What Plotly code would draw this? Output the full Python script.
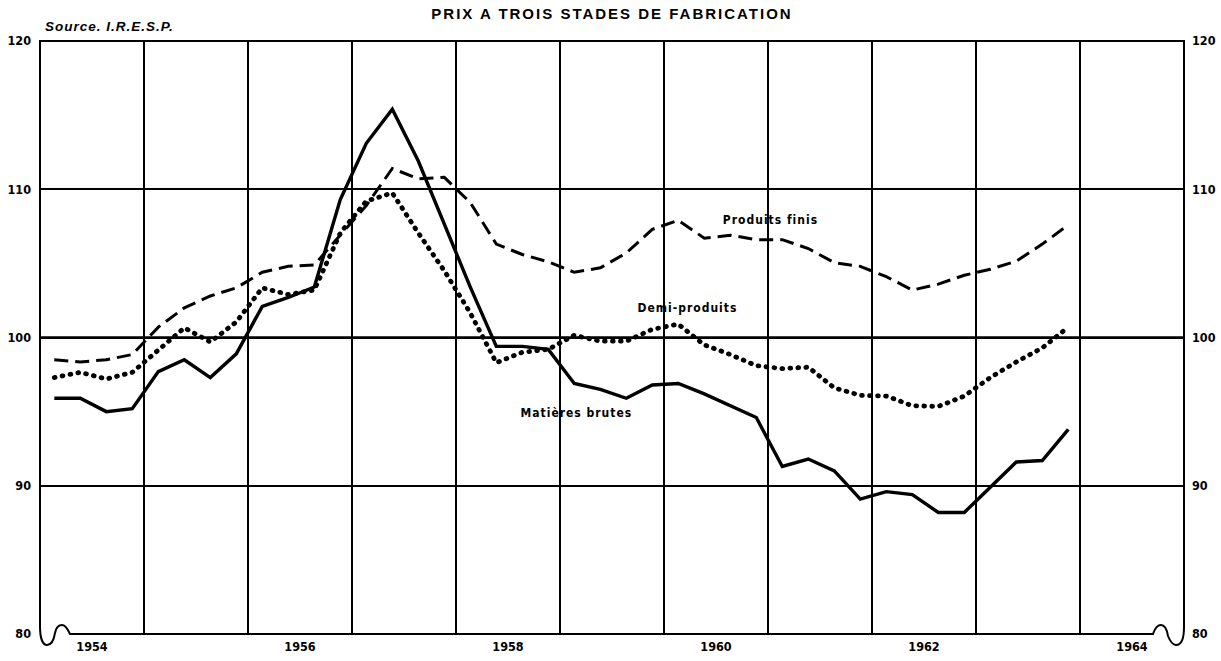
import plotly.graph_objects as go

# ---------------- data (quarterly index values) ----------------
years = [1954, 1955, 1956, 1957, 1958, 1959, 1960, 1961, 1962, 1963]
quarters = [1, 2, 3, 4]

matieres_brutes = [
    95.9, 95.9, 95.0, 95.2,
    97.7, 98.5, 97.3, 98.9,
    102.1, 102.7, 103.4, 109.3,
    113.1, 115.4, 111.9, 107.6,
    103.4, 99.4, 99.4, 99.2,
    96.9, 96.5, 95.9, 96.8,
    96.9, 96.2, 95.4, 94.6,
    91.3, 91.8, 91.0, 89.1,
    89.6, 89.4, 88.2, 88.2,
    89.9, 91.6, 91.7, 93.8,
]
produits_finis = [
    98.5, 98.35, 98.5, 98.85,
    100.7, 102.0, 102.8, 103.35,
    104.4, 104.8, 104.9, 106.9,
    108.9, 111.4, 110.7, 110.8,
    109.1, 106.3, 105.6, 105.1,
    104.4, 104.7, 105.7, 107.3,
    107.9, 106.7, 106.9, 106.6,
    106.6, 106.0, 105.05, 104.8,
    104.1, 103.2, 103.6, 104.2,
    104.6, 105.15, 106.3, 107.6,
]
demi_produits = [
    97.3, 97.65, 97.2, 97.65,
    99.15, 100.65, 99.7, 101.05,
    103.35, 102.9, 103.2, 107.05,
    109.2, 109.75, 107.05, 104.5,
    101.65, 98.3, 99.0, 99.2,
    100.15, 99.75, 99.75, 100.55,
    100.9, 99.5, 98.85, 98.1,
    97.9, 98.0, 96.6, 96.1,
    96.05, 95.4, 95.35, 96.05,
    97.3, 98.35, 99.3, 100.7,
]

year_labels = ["1954", "1956", "1958", "1960", "1962", "1964"]
y_ticks = [80, 90, 100, 110, 120]

# quarter mid-points on a continuous year axis
x = [y + (q - 0.45) / 4 for y in years for q in quarters]

# ---------------- styling ----------------
W, H = 1221, 661
ML, MR, MT, MB = 40, 37, 41, 27
PW, PH = W - ML - MR, H - MT - MB
NARROW = "Liberation Sans Narrow, DejaVu Sans Condensed, Roboto Condensed, Liberation Sans, Arial, sans-serif"
BOLD = "Liberation Sans, Arial, DejaVu Sans, sans-serif"

fig = go.Figure()
fig.add_trace(go.Scatter(x=x, y=matieres_brutes, mode="lines", name="Matières brutes",
                         line=dict(color="black", width=3.4), showlegend=False))
fig.add_trace(go.Scatter(x=x, y=produits_finis, mode="lines", name="Produits finis",
                         line=dict(color="black", width=3.0, dash="14px,7px"), showlegend=False))
fig.add_trace(go.Scatter(x=x, y=demi_produits, mode="lines", name="Demi-produits",
                         line=dict(color="black", width=4.8, dash="0.8px,7.2px"), showlegend=False))
# invisible trace to activate the right-hand axis
fig.add_trace(go.Scatter(x=[years[0]], y=[100], yaxis="y2", mode="markers",
                         marker=dict(opacity=0), showlegend=False, hoverinfo="skip"))

tickfont = dict(family=NARROW, size=12.5, color="black", weight="bold")

fig.update_layout(
    width=W, height=H,
    margin=dict(l=ML, r=MR, t=MT, b=MB, autoexpand=False),
    paper_bgcolor="white", plot_bgcolor="white",
    xaxis=dict(range=[1954, 1965], showgrid=False, zeroline=False, showline=False,
               automargin=False,
               tickmode="array", tickvals=[int(v) + 0.5 for v in year_labels],
               ticktext=year_labels, ticks="", tickfont=tickfont, ticklabelstandoff=3,
               minor=dict(tickmode="linear", tick0=1955, dtick=1, showgrid=True,
                          gridcolor="black", gridwidth=1.6, ticks="")),
    yaxis=dict(range=[80, 120], showgrid=True, gridcolor="black", gridwidth=1.6,
               automargin=False,
               zeroline=False, showline=False, tickmode="array", tickvals=y_ticks,
               ticks="", tickfont=tickfont, ticklabelstandoff=8),
    yaxis2=dict(range=[80, 120], overlaying="y", side="right", showgrid=False,
                automargin=False,
                zeroline=False, showline=False, tickmode="array", tickvals=y_ticks,
                ticks="", tickfont=tickfont, ticklabelstandoff=7),
    title=dict(text="PRIX A TROIS STADES DE FABRICATION", x=0.5, xref="paper",
               y=1 - 14 / H, yref="container", xanchor="center", yanchor="middle",
               automargin=False,
               font=dict(family=BOLD, size=15, color="black", weight="bold")),
)

# thicker 100 reference line
fig.add_shape(type="line", xref="paper", yref="y", x0=0, x1=1, y0=100, y1=100,
              line=dict(color="black", width=2.6), layer="below")


def P(px, py):
    return f"{(px - ML) / PW:.5f},{(H - MB - py) / PH:.5f}"


frame = (
    f"M {P(40, 41)} L {P(40, 626)} "
    f"C {P(40, 639)} {P(43, 645)} {P(47, 645)} "
    f"C {P(52, 645)} {P(54, 639)} {P(55, 633)} "
    f"C {P(56, 628)} {P(58, 625)} {P(62, 625)} "
    f"C {P(66, 625)} {P(68, 630)} {P(70, 634)} "
    f"L {P(1153, 634)} "
    f"C {P(1155, 628)} {P(1158, 625)} {P(1161, 625)} "
    f"C {P(1165, 625)} {P(1167, 630)} {P(1168, 636)} "
    f"C {P(1170, 641)} {P(1172, 645)} {P(1176, 645)} "
    f"C {P(1181, 645)} {P(1184, 640)} {P(1184, 627)} "
    f"L {P(1184, 41)} Z"
)
fig.add_shape(type="path", xref="paper", yref="paper", path=frame,
              line=dict(color="black", width=2), fillcolor="rgba(0,0,0,0)")

labfont = dict(family=NARROW, size=12, color="black", weight="bold")
fig.add_annotation(x=1961.02, y=107.9, text="Produits finis", showarrow=False, font=labfont)
fig.add_annotation(x=1960.23, y=102.0, text="Demi-produits", showarrow=False, font=labfont)
fig.add_annotation(x=1959.16, y=94.9, text="Matières brutes", showarrow=False, font=labfont)
fig.add_annotation(xref="paper", yref="paper", x=12 / PW, y=1 + 14 / PH, xanchor="left",
                   yanchor="middle", text="<i>Source. I.R.E.S.P.</i>", showarrow=False,
                   font=dict(family=BOLD, size=13.5, color="black", weight="bold"))

post = ("document.body.style.margin='0';document.body.style.overflow='hidden';"
        "var gd=document.getElementById('{plot_id}');"
        "var tr=gd.querySelectorAll('.scatterlayer .trace');"
        "if(tr.length>2){tr[2].querySelectorAll('path').forEach(function(p){"
        "p.style.strokeLinecap='round';});}"
        "var t=gd.querySelector('.gtitle');if(t){t.style.letterSpacing='2px';}"
        "gd.querySelectorAll('.annotation-text').forEach(function(a){"
        "a.style.letterSpacing='1px';});")

fig.write_html("out.html", post_script=post, config={"displayModeBar": False})
